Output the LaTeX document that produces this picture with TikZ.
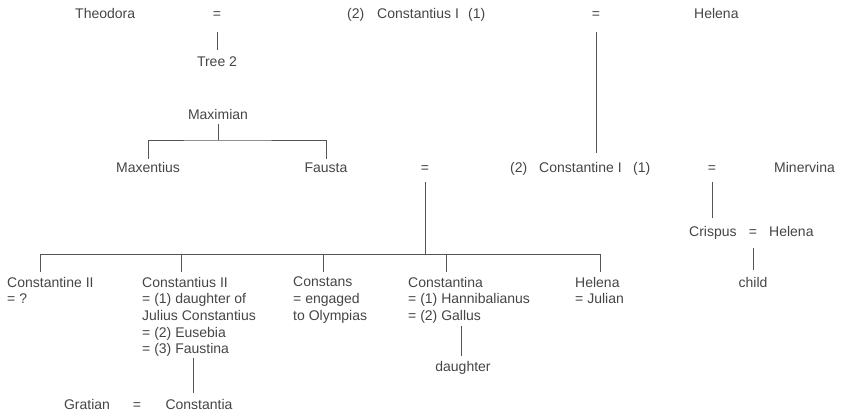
\documentclass[tikz,border=0pt]{standalone}
\usepackage{fontspec}
\setmainfont{Liberation Sans}
\definecolor{txt}{gray}{0.27}
\definecolor{ln}{gray}{0.33}
\begin{document}
\begin{tikzpicture}[x=1pt,y=-1pt,
  lbl/.style={inner sep=0pt, text height=10pt, text depth=0pt, text=txt,
    font=\fontsize{14}{16.5}\selectfont},
  kid/.style={inner sep=0pt, align=left, anchor=north west, text=txt,
    font=\fontsize{14}{16.6}\selectfont},
  conn/.style={draw=ln, line width=0.9pt}]
\useasboundingbox (0,0) rectangle (843,416);
% top row
\node[lbl, anchor=west] (theodora) at (75,13) {Theodora};
\node[lbl] (eqA) at (217,13) {=};
\node[lbl, anchor=west] (p2a) at (347,13) {(2)};
\node[lbl, anchor=west] (constI) at (377,13) {Constantius I};
\node[lbl, anchor=west] (p1a) at (468,13) {(1)};
\node[lbl] (eqB) at (596,13) {=};
\node[lbl, anchor=west] (helenaT) at (694,13) {Helena};
\node[lbl] (tree2) at (217,61) {Tree 2};
\node[lbl] (maximian) at (218,114) {Maximian};
% second generation
\node[lbl] (maxentius) at (148,167) {Maxentius};
\node[lbl] (fausta) at (326,167) {Fausta};
\node[lbl] (eqC) at (425,167) {=};
\node[lbl, anchor=west] (p2b) at (510,167) {(2)};
\node[lbl, anchor=west] (constantineI) at (539,167) {Constantine I};
\node[lbl, anchor=west] (p1b) at (633,167) {(1)};
\node[lbl] (eqD) at (712,167) {=};
\node[lbl, anchor=west] (minervina) at (774,167) {Minervina};
\node[lbl, anchor=west] (crispus) at (689,231) {Crispus};
\node[lbl] (eqE) at (753,231) {=};
\node[lbl, anchor=west] (helenaC) at (769,231) {Helena};
\node[lbl] (child) at (753,282) {child};
% children of Constantine I and Fausta
\node[kid] (c1) at (7,277) {Constantine II\\= ?};
\node[kid] (c2) at (142,277) {Constantius II\\= (1) daughter of\\Julius Constantius\\= (2) Eusebia\\= (3) Faustina};
\node[kid] (c3) at (293,277) {Constans\\= engaged\\to Olympias};
\node[kid] (c4) at (408,277) {Constantina\\= (1) Hannibalianus\\= (2) Gallus};
\node[kid] (c5) at (575,277) {Helena\\= Julian};
\node[lbl] (daughter) at (463,366) {daughter};
\node[lbl] (gratian) at (87,404) {Gratian};
\node[lbl] (eqF) at (137,404) {=};
\node[lbl] (constantia) at (199,404) {Constantia};
% coordinates
\coordinate (barA) at (218,140);
\coordinate (barB) at (425,254);
\coordinate (b1) at (40,254);
\coordinate (b2) at (181,254);
\coordinate (b3) at (323,254);
\coordinate (b4) at (446,254);
\coordinate (b5) at (600,254);
% connectors
\draw[conn, shorten <=14pt, shorten >=6pt] (eqA) -- (tree2.north);
\draw[conn, shorten <=14pt, shorten >=9pt] (eqB) -- (eqB |- constantineI.north);
\draw[conn, shorten <=5pt] (maximian.south) -- (barA);
\draw[conn, shorten <=3pt, shorten >=3pt] (maxentius.north) |- (barA) -| (fausta.north);
\draw[conn, shorten <=10pt] (eqC) -- (barB);
\draw[conn] (b1) -- (b5);
\foreach \b/\c in {b1/c1,b2/c2,b3/c3,b4/c4,b5/c5}
  \draw[conn, shorten >=5pt] (\b) -- (\b |- \c.north);
\draw[conn, shorten <=10pt, shorten >=8pt] (eqD) -- (eqD |- crispus.north);
\draw[conn, shorten <=12pt, shorten >=7pt] (eqE) -- (child.north);
\draw[conn, shorten <=1pt, shorten >=6pt] ([xshift=51pt]c2.south west) -- ([xshift=51pt]c2.south west |- constantia.north);
\draw[conn, shorten <=2pt, shorten >=5pt] ([xshift=53pt]c4.south west) -- ([xshift=53pt]c4.south west |- daughter.north);
\end{tikzpicture}
\end{document}
